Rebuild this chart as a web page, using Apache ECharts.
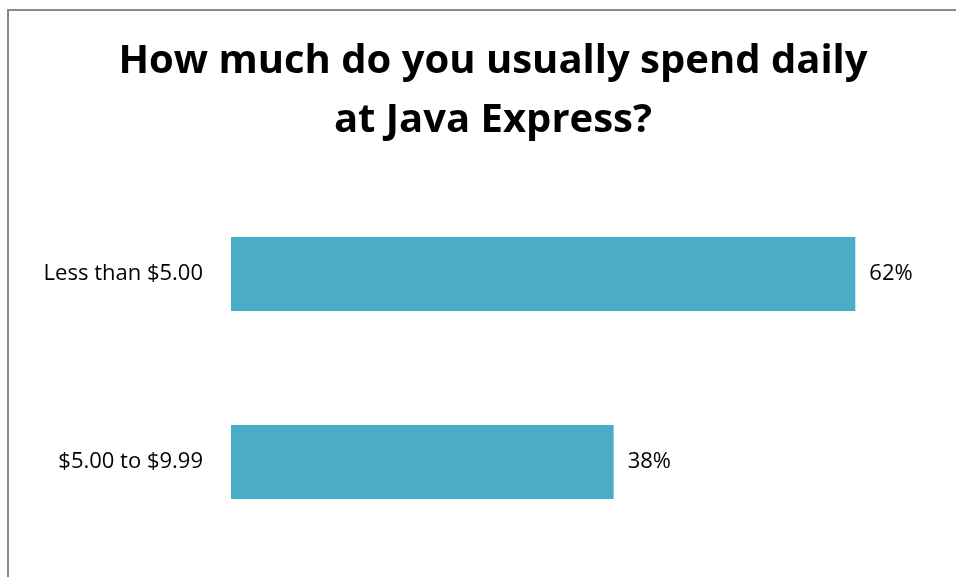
<!DOCTYPE html>
<html>
<head>
<meta charset="utf-8">
<style>
  html, body { margin: 0; padding: 0; background: #fff; }
  #chart { width: 956px; height: 577px; }
</style>
<script src="https://cdn.jsdelivr.net/npm/echarts@6/dist/echarts.min.js"></script>
</head>
<body>
<div id="chart"></div>
<script>
// Survey answers: daily spend at Java Express
const categories = ['Less than $5.00', '$5.00 to $9.99'];
const shares = [62, 38];

const chart = echarts.init(document.getElementById('chart'), null, { renderer: 'canvas' });

chart.setOption({
  backgroundColor: '#ffffff',
  animation: false,
  title: {
    text: 'How much do you usually spend daily\nat Java Express?',
    left: 488,
    top: 27,
    textAlign: 'center',
    textStyle: {
      fontFamily: 'Open Sans',
      fontWeight: 'bold',
      fontSize: 40,
      lineHeight: 59,
      color: '#000'
    }
  },
  graphic: [{
    type: 'rect',
    shape: { x: 8, y: 10, width: 1000, height: 700 },
    style: { fill: 'none', stroke: '#8a8a8a', lineWidth: 2 },
    silent: true
  }],
  grid: { left: 231, right: 0, top: 180, bottom: 21 },
  xAxis: {
    type: 'value',
    min: 0,
    max: 72,
    show: false
  },
  yAxis: {
    type: 'category',
    data: categories,
    inverse: true,
    axisLine: { show: false },
    axisTick: { show: false },
    axisLabel: {
      margin: 28,
      fontFamily: 'Open Sans',
      fontSize: 22,
      color: '#000'
    }
  },
  series: [{
    type: 'bar',
    data: shares,
    barWidth: 74,
    itemStyle: { color: '#4bacc6' },
    label: {
      show: true,
      position: 'right',
      distance: 14,
      formatter: '{c}%',
      fontFamily: 'Open Sans',
      fontSize: 22,
      color: '#000'
    }
  }]
});
</script>
</body>
</html>
